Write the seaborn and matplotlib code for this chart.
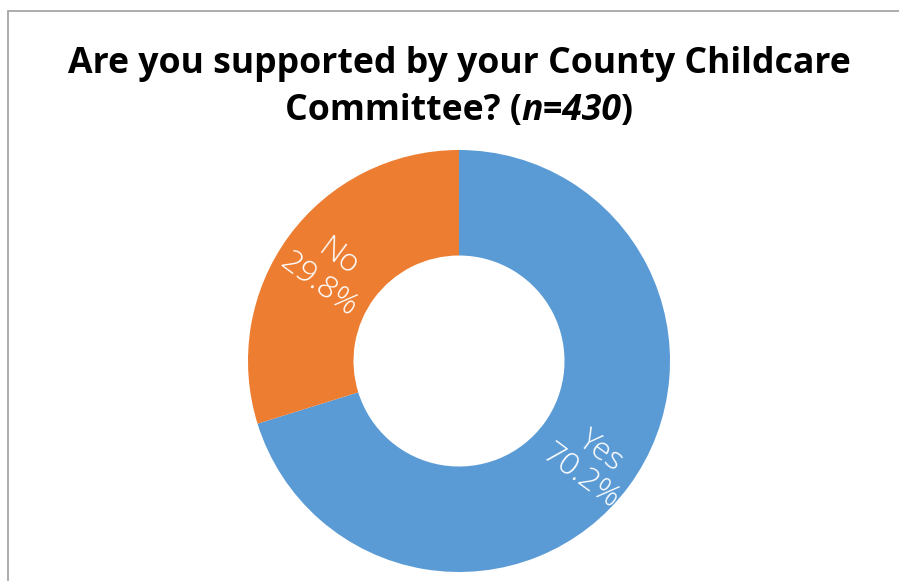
import numpy as np
import matplotlib
matplotlib.use("Agg")
import matplotlib.pyplot as plt
from matplotlib.patches import Rectangle
import seaborn as sns

# Survey answers (share of respondents, %)
categories = ["Yes", "No"]
shares = [70.2, 29.8]
sample_size = 430

title_line1 = "Are you supported by your County Childcare"
title_line2_parts = ["Committee? (", f"n={sample_size}", ")"]

sns.set_theme(style="white")
plt.rcParams["font.family"] = ["Open Sans", "DejaVu Sans"]

palette = sns.color_palette(["#5B9BD5", "#ED7D31"])

W, H = 899, 581
fig = plt.figure(figsize=(W / 100, H / 100), dpi=100)
fig.patch.set_facecolor("white")

# thin grey chart-area border (open at right and bottom edges)
fig.add_artist(Rectangle((8 / W, -0.05), 1.2, 1 - 11 / H + 0.05,
                         transform=fig.transFigure, fill=False,
                         edgecolor="#A6A6A6", linewidth=1.3))

cx, cy, R = 459, 361, 211
ax = fig.add_axes([(cx - R) / W, (H - cy - R) / H, 2 * R / W, 2 * R / H])

width = 0.5
wedges, _ = ax.pie(shares, colors=palette, startangle=90, counterclock=False,
                   radius=1.0, wedgeprops=dict(width=width, edgecolor="none"))
ax.set_xlim(-1, 1)
ax.set_ylim(-1, 1)
ax.set_aspect("equal")
ax.axis("off")

label_r = 1.0 - width / 2 + 0.02
for w, cat, val in zip(wedges, categories, shares):
    mid = np.deg2rad((w.theta1 + w.theta2) / 2)
    x, y = label_r * np.cos(mid), label_r * np.sin(mid)
    rot = np.rad2deg(mid)
    if rot > 90:
        rot -= 180
    elif rot < -90:
        rot += 180
    ax.text(x, y - 0.03, f"{cat}\n{val:.1f}%", color="white", fontsize=23,
            fontweight="light", ha="center", va="center",
            multialignment="center", rotation=rot, rotation_mode="anchor",
            linespacing=1.05)

# title
fig.text(0.5 + 10 / W, 1 - 73 / H, title_line1, ha="center", va="baseline",
         fontsize=25.7, fontweight="bold", color="black")

fig.canvas.draw()
renderer = fig.canvas.get_renderer()
styles = ["normal", "italic", "normal"]
pieces = []
for txt, st in zip(title_line2_parts, styles):
    t = fig.text(0, 1 - 120 / H, txt, ha="left", va="baseline", fontsize=25.7,
                 fontweight="bold", fontstyle=st, color="black")
    pieces.append(t)
widths = [p.get_window_extent(renderer).width for p in pieces]
total = sum(widths)
x0 = 459 - total / 2
for p, wpx in zip(pieces, widths):
    p.set_x(x0 / W)
    x0 += wpx

fig.savefig("out.png", dpi=100, facecolor="white")
